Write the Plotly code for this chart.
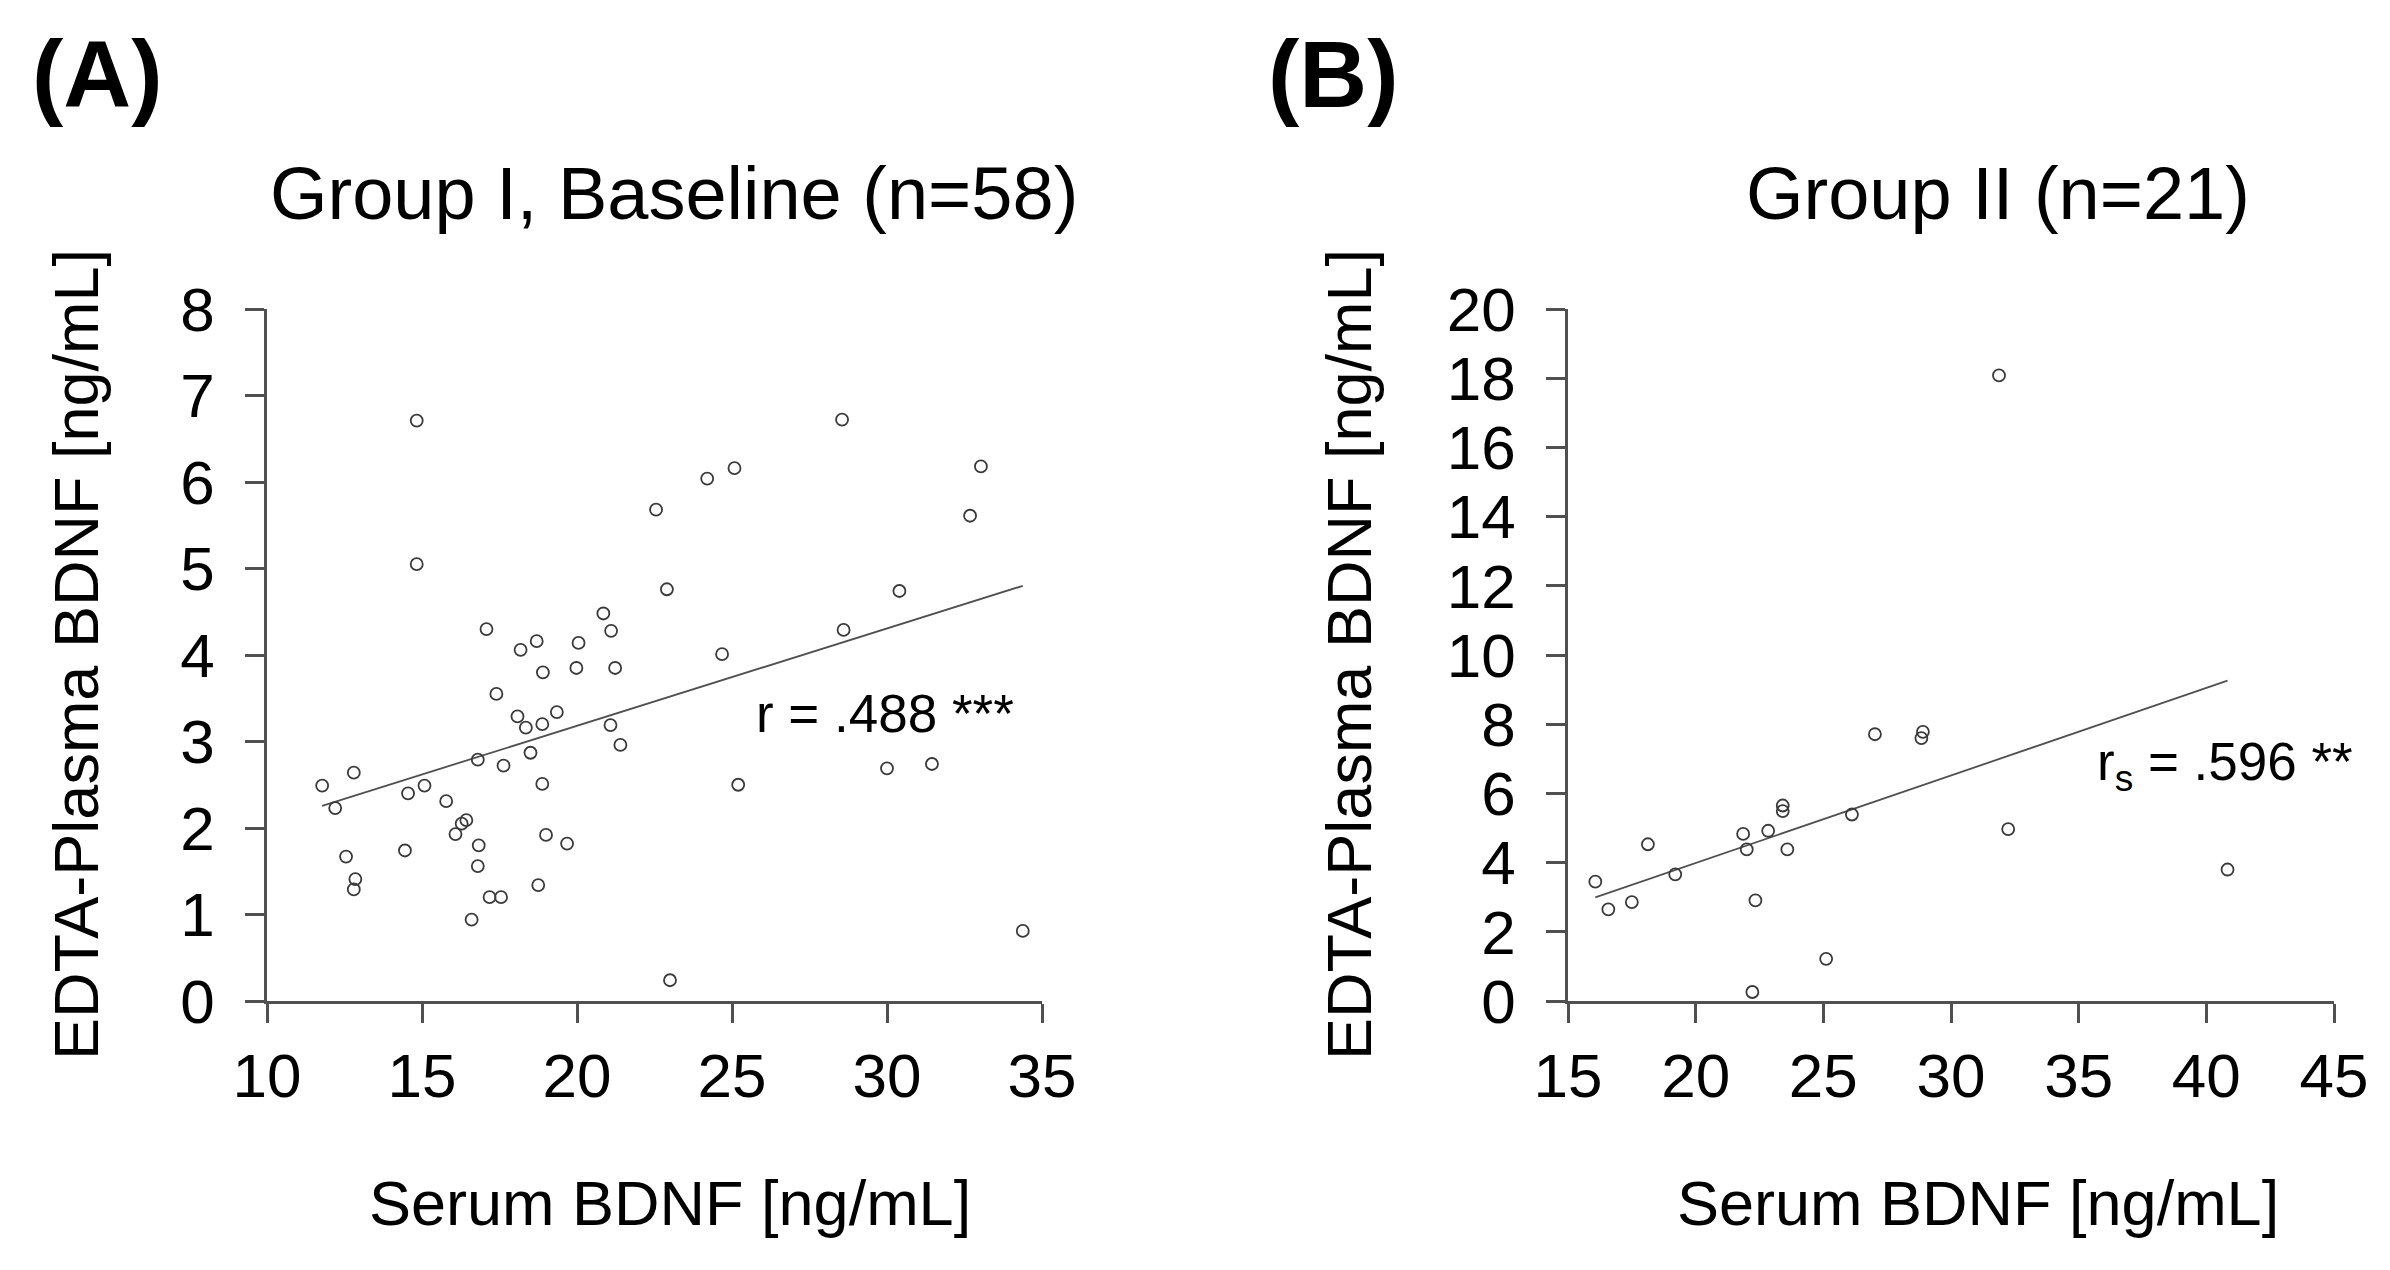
import numpy as np
import plotly.graph_objects as go

# ---- data ----
# (A) Group I, Baseline (n=58)
serum_a = [11.78, 12.2, 12.8, 12.55, 12.85, 12.8, 14.45, 14.55, 14.83, 14.83,
           15.08, 15.78, 16.08, 16.28, 16.43, 16.6, 16.8, 16.83, 16.8, 17.08,
           17.18, 17.4, 17.55, 17.63, 18.08, 18.18, 18.35, 18.5, 18.7, 18.75,
           18.88, 18.88, 18.9, 19.0, 19.35, 19.68, 19.98, 20.05, 20.85, 21.1,
           21.08, 21.23, 21.4, 22.55, 22.9, 23.0, 24.2, 24.68, 25.08, 25.2,
           28.55, 28.6, 30.0, 30.4, 31.45, 32.68, 33.03, 34.38]
plasma_a = [2.49, 2.23, 2.64, 1.67, 1.41, 1.29, 1.74, 2.40, 6.71, 5.05,
            2.49, 2.31, 1.93, 2.05, 2.09, 0.94, 2.79, 1.80, 1.56, 4.30,
            1.20, 3.55, 1.20, 2.72, 3.29, 4.06, 3.16, 2.87, 4.16, 1.34,
            2.51, 3.20, 3.80, 1.92, 3.34, 1.82, 3.85, 4.14, 4.48, 4.28,
            3.19, 3.85, 2.96, 5.68, 4.76, 0.24, 6.04, 4.01, 6.16, 2.50,
            6.72, 4.29, 2.69, 4.74, 2.74, 5.61, 6.18, 0.81]

# (B) Group II (n=21)
serum_b = [16.07, 16.58, 17.5, 18.13, 19.2, 21.86, 22.0, 22.22, 22.34, 22.84,
           23.41, 23.41, 23.59, 25.11, 26.12, 27.02, 28.84, 28.9, 31.88, 32.24,
           40.83]
plasma_b = [3.45, 2.65, 2.86, 4.53, 3.66, 4.83, 4.38, 0.26, 2.91, 4.92,
            5.65, 5.49, 4.38, 1.22, 5.39, 7.71, 7.60, 7.78, 18.08, 4.97,
            3.80]

xticks_a = [10, 15, 20, 25, 30, 35]
yticks_a = [0, 1, 2, 3, 4, 5, 6, 7, 8]
xticks_b = [15, 20, 25, 30, 35, 40, 45]
yticks_b = [0, 2, 4, 6, 8, 10, 12, 14, 16, 18, 20]

W, H = 2390, 1270
OFF = 8  # page body margin, so pixel positions are taken relative to the window
FONT = "Liberation Sans, Arial, sans-serif"
AX = "#505050"
MK = "#3a3a3a"


def px(x):
    return (x - OFF) / W


def py(y):
    return 1 - (y - OFF) / H


def fit_line(x, y):
    # least squares line over the data range
    k, b = np.polyfit(x, y, 1)
    xs = np.array([min(x), max(x)])
    return xs, k * xs + b


fig = go.Figure()

for xa, ya, sx, sy in [("x", "y", serum_a, plasma_a), ("x2", "y2", serum_b, plasma_b)]:
    lx, ly = fit_line(sx, sy)
    fig.add_trace(go.Scatter(x=lx, y=ly, mode="lines", xaxis=xa, yaxis=ya,
                             line=dict(color="#505050", width=1.8), showlegend=False,
                             hoverinfo="skip"))
    fig.add_trace(go.Scatter(x=sx, y=sy, mode="markers", xaxis=xa, yaxis=ya,
                             marker=dict(symbol="circle-open", size=12, color=MK,
                                         line=dict(width=1.8, color=MK)),
                             showlegend=False))

axis_common = dict(showline=True, linecolor=AX, linewidth=2.6, ticks="outside",
                   ticklen=19, tickwidth=2.6, tickcolor=AX, showgrid=False,
                   zeroline=False, automargin=False,
                   tickfont=dict(family=FONT, size=62, color="black"))

fig.update_layout(
    template="none",
    width=W, height=H, margin=dict(l=0, r=0, t=0, b=0, pad=0),
    paper_bgcolor="white", plot_bgcolor="white",
    xaxis=dict(domain=[px(267), px(1042)], range=[10, 35], tickvals=xticks_a,
               anchor="y", ticklabelstandoff=0, **axis_common),
    yaxis=dict(domain=[py(1001), py(309)], range=[0, 8], tickvals=yticks_a,
               anchor="x", ticklabelstandoff=18, **axis_common),
    xaxis2=dict(domain=[px(1568), px(2334)], range=[15, 45], tickvals=xticks_b,
                anchor="y2", ticklabelstandoff=0, **axis_common),
    yaxis2=dict(domain=[py(1001), py(309)], range=[0, 20], tickvals=yticks_b,
                anchor="x2", ticklabelstandoff=18, **axis_common),
)

notes = [
    dict(text="<b>(A)</b>", x=30, y=75, xanchor="left", size=94),
    dict(text="<b>(B)</b>", x=1266, y=75, xanchor="left", size=94),
    dict(text="Group I, Baseline (n=58)", x=674, y=194, xanchor="center", size=74),
    dict(text="Group II (n=21)", x=1998, y=194, xanchor="center", size=74),
    dict(text="Serum BDNF [ng/mL]", x=670, y=1203, xanchor="center", size=63),
    dict(text="Serum BDNF [ng/mL]", x=1978, y=1203, xanchor="center", size=63),
    dict(text="r = .488 ***", x=754, y=713, xanchor="left", size=53),
    dict(text="r<sub>s</sub> = .596 **", x=2095, y=765, xanchor="left", size=53),
]
for n in notes:
    fig.add_annotation(text=n["text"], xref="paper", yref="paper",
                       x=px(n["x"]), y=py(n["y"]), xanchor=n["xanchor"],
                       yanchor="middle", showarrow=False,
                       font=dict(family=FONT, size=n["size"], color="black"))

for xc in [76, 1349]:
    fig.add_annotation(text="EDTA-Plasma BDNF [ng/mL]", xref="paper", yref="paper",
                       x=px(xc), y=py(655), xanchor="center", yanchor="middle",
                       textangle=-90, showarrow=False,
                       font=dict(family=FONT, size=63, color="black"))

fig.write_html("out.html")
